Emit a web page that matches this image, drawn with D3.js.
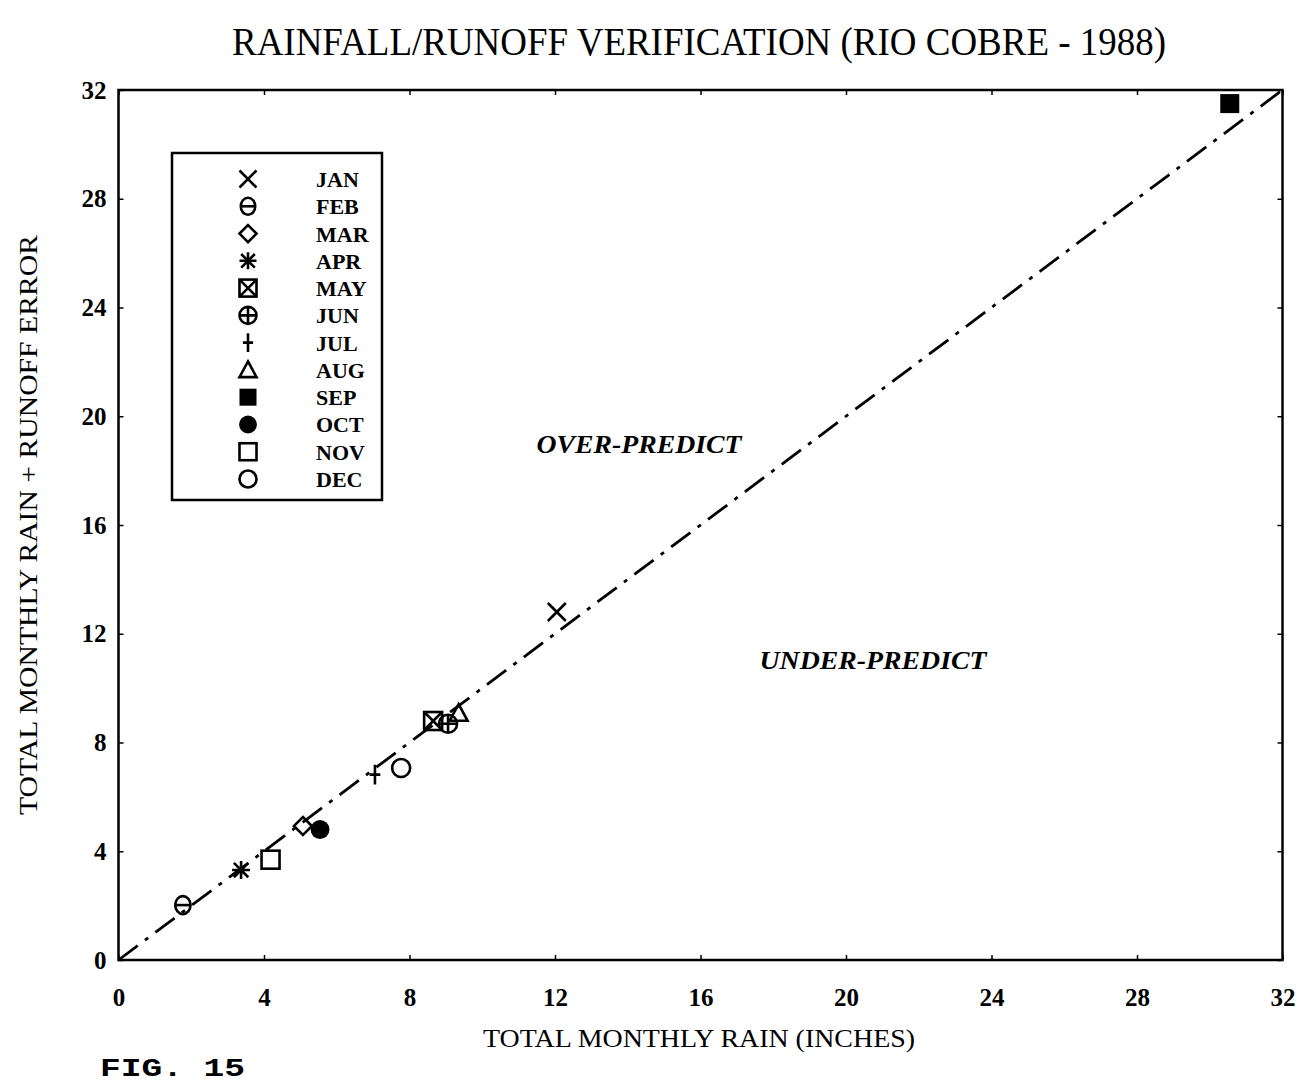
<!DOCTYPE html>
<html>
<head>
<meta charset="utf-8">
<script src="https://cdn.jsdelivr.net/npm/d3@7"></script>
<style>
  html, body { margin: 0; padding: 0; background: #fff; }
  svg { display: block; }
</style>
</head>
<body>
<svg id="chart" width="1299" height="1083"></svg>
<script>
// Monthly totals for Rio Cobre, 1988 (inches)
const months = ["JAN", "FEB", "MAR", "APR", "MAY", "JUN", "JUL", "AUG", "SEP", "OCT", "NOV", "DEC"];
const symbols = ["x", "theta", "diamond", "asterisk", "boxx", "circleplus", "plus", "triangle", "filledsquare", "filledcircle", "square", "circle"];
const totalRain = [12.05, 1.77, 5.07, 3.37, 8.65, 9.06, 7.05, 9.35, 30.55, 5.54, 4.18, 7.77];
const rainPlusError = [12.8, 2.02, 4.93, 3.31, 8.79, 8.69, 6.82, 9.08, 31.5, 4.8, 3.69, 7.06];
const tickValues = [0, 4, 8, 12, 16, 20, 24, 28, 32];

const svg = d3.select("#chart");
const plotLeft = 118.5, plotRight = 1282.5, plotTop = 90, plotBottom = 960;
const serif = "Liberation Serif, Times New Roman, serif";

const x = d3.scaleLinear().domain([0, 32]).range([plotLeft, plotRight]);
const y = d3.scaleLinear().domain([0, 32]).range([plotBottom, plotTop]);

// Title
svg.append("text")
  .attr("x", 699).attr("y", 55)
  .attr("text-anchor", "middle")
  .attr("font-family", serif)
  .attr("font-size", 40)
  .attr("textLength", 934).attr("lengthAdjust", "spacingAndGlyphs")
  .text("RAINFALL/RUNOFF VERIFICATION (RIO COBRE - 1988)");

// Axes with small inward ticks on all four sides
const tickStyle = g => {
  g.select(".domain").remove();
  g.selectAll(".tick line").attr("stroke", "#000").attr("stroke-width", 1.5);
};
svg.append("g").attr("transform", `translate(0,${plotBottom})`)
  .call(d3.axisBottom(x).tickValues(tickValues).tickSizeInner(-5).tickSizeOuter(0).tickPadding(26))
  .call(tickStyle)
  .call(g => g.selectAll(".tick text")
    .attr("font-family", serif)
    .attr("font-weight", "bold").attr("font-size", 25).attr("fill", "#000")
    .attr("dy", "0.8em"));
svg.append("g").attr("transform", `translate(${plotLeft},0)`)
  .call(d3.axisLeft(y).tickValues(tickValues).tickSizeInner(-5).tickSizeOuter(0).tickPadding(12))
  .call(tickStyle)
  .call(g => g.selectAll(".tick text")
    .attr("font-family", serif)
    .attr("font-weight", "bold").attr("font-size", 25).attr("fill", "#000"));
svg.append("g").attr("transform", `translate(0,${plotTop})`)
  .call(d3.axisTop(x).tickValues(tickValues).tickSizeInner(-5).tickSizeOuter(0).tickFormat(""))
  .call(tickStyle);
svg.append("g").attr("transform", `translate(${plotRight},0)`)
  .call(d3.axisRight(y).tickValues(tickValues).tickSizeInner(-5).tickSizeOuter(0).tickFormat(""))
  .call(tickStyle);

// Plot frame
svg.append("rect")
  .attr("x", plotLeft).attr("y", plotTop)
  .attr("width", plotRight - plotLeft).attr("height", plotBottom - plotTop)
  .attr("fill", "none").attr("stroke", "#000").attr("stroke-width", 2.5);

// 1:1 line
svg.append("line")
  .attr("x1", x(0)).attr("y1", y(0)).attr("x2", x(32)).attr("y2", y(32))
  .attr("stroke", "#000").attr("stroke-width", 2.8)
  .attr("stroke-dasharray", "24,9,4,9");

// Region annotations
const note = (tx, ty, w, s) => svg.append("text")
  .attr("x", tx).attr("y", ty).attr("text-anchor", "middle")
  .attr("font-family", serif)
  .attr("font-weight", "bold").attr("font-style", "italic")
  .attr("font-size", 25)
  .attr("textLength", w).attr("lengthAdjust", "spacingAndGlyphs")
  .text(s);
note(639, 453, 205, "OVER-PREDICT");
note(873, 669, 227, "UNDER-PREDICT");

// Axis titles
svg.append("text")
  .attr("x", 699).attr("y", 1047).attr("text-anchor", "middle")
  .attr("font-family", serif)
  .attr("font-size", 25)
  .attr("textLength", 432).attr("lengthAdjust", "spacingAndGlyphs")
  .text("TOTAL MONTHLY RAIN (INCHES)");
svg.append("text")
  .attr("transform", "translate(37,525) rotate(-90)")
  .attr("text-anchor", "middle")
  .attr("font-family", serif)
  .attr("font-size", 26)
  .attr("textLength", 580).attr("lengthAdjust", "spacingAndGlyphs")
  .text("TOTAL MONTHLY RAIN + RUNOFF ERROR");

// Figure number
svg.append("text")
  .attr("x", 100).attr("y", 1076)
  .attr("font-family", "Liberation Mono, Courier New, monospace")
  .attr("font-weight", "bold").attr("font-size", 26)
  .attr("textLength", 145).attr("lengthAdjust", "spacingAndGlyphs")
  .text("FIG. 15");

// Marker drawing
function drawSymbol(g, type, s) {
  const sw = 2.6;
  const stroke = el => el.attr("fill", "none").attr("stroke", "#000").attr("stroke-width", sw);
  switch (type) {
    case "x":
      stroke(g.append("path").attr("d", `M${-s},${-s}L${s},${s}M${-s},${s}L${s},${-s}`));
      break;
    case "theta":
      stroke(g.append("ellipse").attr("rx", s * 0.85).attr("ry", s));
      stroke(g.append("path").attr("d", `M${-s * 0.85},0L${s * 0.85},0`).attr("stroke-width", 1.5));
      break;
    case "diamond":
      stroke(g.append("path").attr("d", `M0,${-s}L${s},0L0,${s}L${-s},0Z`));
      break;
    case "asterisk":
      stroke(g.append("path").attr("d",
        `M${-s},0L${s},0M0,${-s}L0,${s}M${-s * 0.8},${-s * 0.8}L${s * 0.8},${s * 0.8}M${-s * 0.8},${s * 0.8}L${s * 0.8},${-s * 0.8}`)
        .attr("stroke-width", 3.2));
      break;
    case "boxx":
      stroke(g.append("rect").attr("x", -s).attr("y", -s).attr("width", 2 * s).attr("height", 2 * s));
      stroke(g.append("path").attr("d", `M${-s},${-s}L${s},${s}M${-s},${s}L${s},${-s}`));
      break;
    case "circleplus":
      stroke(g.append("circle").attr("r", s));
      stroke(g.append("path").attr("d", `M${-s},0L${s},0M0,${-s}L0,${s}`));
      break;
    case "plus":
      stroke(g.append("path").attr("d", `M${-s * 0.6},0L${s * 0.6},0M0,${-s * 1.1}L0,${s * 1.1}`).attr("stroke-width", 1.6));
      break;
    case "triangle":
      stroke(g.append("path").attr("d", `M0,${-s}L${s},${s * 0.85}L${-s},${s * 0.85}Z`));
      break;
    case "filledsquare":
      g.append("rect").attr("x", -s).attr("y", -s).attr("width", 2 * s).attr("height", 2 * s).attr("fill", "#000");
      break;
    case "filledcircle":
      g.append("circle").attr("r", s * 1.05).attr("fill", "#000");
      break;
    case "square":
      stroke(g.append("rect").attr("x", -s).attr("y", -s).attr("width", 2 * s).attr("height", 2 * s));
      break;
    case "circle":
      stroke(g.append("circle").attr("r", s));
      break;
  }
}

// Data points
const points = months.map((m, i) => ({ m, sym: symbols[i], rx: totalRain[i], ry: rainPlusError[i] }));
svg.append("g").selectAll("g")
  .data(points)
  .join("g")
  .attr("transform", d => `translate(${x(d.rx)},${y(d.ry)})`)
  .each(function (d) {
    drawSymbol(d3.select(this), d.sym, d.sym === "filledsquare" ? 9.5 : 9);
  });

// Legend
const legend = svg.append("g");
legend.append("rect")
  .attr("x", 172).attr("y", 153).attr("width", 210).attr("height", 347)
  .attr("fill", "#fff").attr("stroke", "#000").attr("stroke-width", 2.5);
const rowY = d3.scalePoint().domain(months).range([179, 479]);
months.forEach((m, i) => {
  const g = legend.append("g").attr("transform", `translate(248,${rowY(m)})`);
  drawSymbol(g, symbols[i], 8.5);
  legend.append("text")
    .attr("x", 316).attr("y", rowY(m) + 8)
    .attr("font-family", serif)
    .attr("font-weight", "bold").attr("font-size", 22)
    .text(m);
});
</script>
</body>
</html>
